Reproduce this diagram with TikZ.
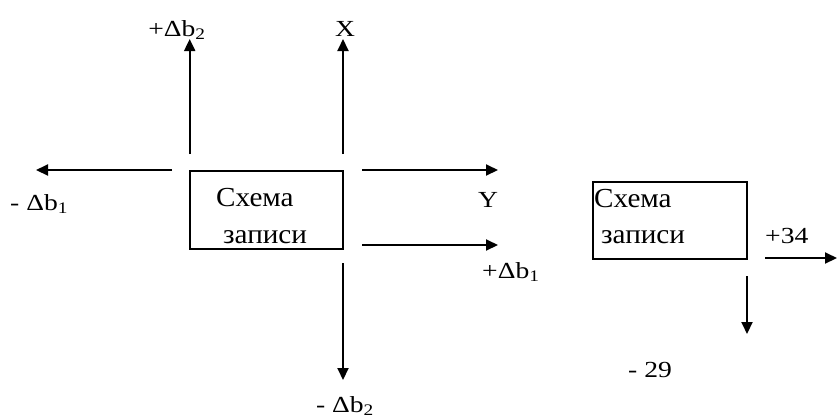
\documentclass[tikz,border=0pt]{standalone}
\usepackage{fontspec}
\setmainfont{Liberation Serif}
\newfontfamily\lblfont{Liberation Serif}[FakeStretch=1.2]
\newfontfamily\boxfont{Liberation Serif}[FakeStretch=1.06]
\usetikzlibrary{arrows.meta}
\tikzset{
  arr/.style={line width=2pt,-{Triangle[length=12pt,width=11pt]}},
  box/.style={draw,line width=1.6pt,inner sep=0pt},
  lbl/.style={inner sep=0pt,font=\lblfont\fontsize{23}{25}\selectfont},
  btxt/.style={inner sep=0pt,anchor=base west,font=\boxfont\fontsize{27.5}{30}\selectfont}
}
\begin{document}
\begin{tikzpicture}[x=1pt,y=-1pt]
\useasboundingbox (0,0) rectangle (837,416);
% boxes
\node[box,minimum width=153pt,minimum height=78pt] (b1) at (266.5,209.7) {};
\node[box,minimum width=154pt,minimum height=77pt] (b2) at (670,220.5) {};
% box texts
\node[btxt] (t1a) at (216,206.5) {Схема};
\node[btxt] (t1b) at (223,243) {записи};
\node[btxt] (t2a) at (594,207) {Схема};
\node[btxt] (t2b) at (601,243) {записи};
% arrow coordinates
\coordinate (u1s) at (189.7,154);
\coordinate (u1e) at (189.7,39);
\coordinate (u2s) at (343,154);
\coordinate (u2e) at (343,39);
\coordinate (ls) at (172,170);
\coordinate (le) at (36,170);
\coordinate (r1s) at (362,170);
\coordinate (r1e) at (498,170);
\coordinate (r2s) at (362,245);
\coordinate (r2e) at (498,245);
\coordinate (ds) at (343,263);
\coordinate (de) at (343,380);
\coordinate (r3s) at (765,258);
\coordinate (r3e) at (837,258);
\coordinate (d2s) at (747,276);
\coordinate (d2e) at (747,334);
\draw[arr] (u1s) -- (u1e);
\draw[arr] (u2s) -- (u2e);
\draw[arr] (ls) -- (le);
\draw[arr] (r1s) -- (r1e);
\draw[arr] (r2s) -- (r2e);
\draw[arr] (ds) -- (de);
\draw[arr] (r3s) -- (r3e);
\draw[arr] (d2s) -- (d2e);
% labels
\node[lbl,anchor=base] (lb2p) at (177,36) {+Δb\textsubscript{2}};
\node[lbl,anchor=base] (lx) at (345,36) {X};
\node[lbl,anchor=base west] (lb1m) at (10,210) {- Δb\textsubscript{1}};
\node[lbl,anchor=base] (ly) at (488,207) {Y};
\node[lbl,anchor=base west] (lb1p) at (482,278) {+Δb\textsubscript{1}};
\node[lbl,anchor=base] (lb2m) at (345,412) {- Δb\textsubscript{2}};
\node[lbl,anchor=base west] (l34) at (765,243) {+34};
\node[lbl,anchor=base west] (l29) at (628,377) {- 29};
\end{tikzpicture}
\end{document}
